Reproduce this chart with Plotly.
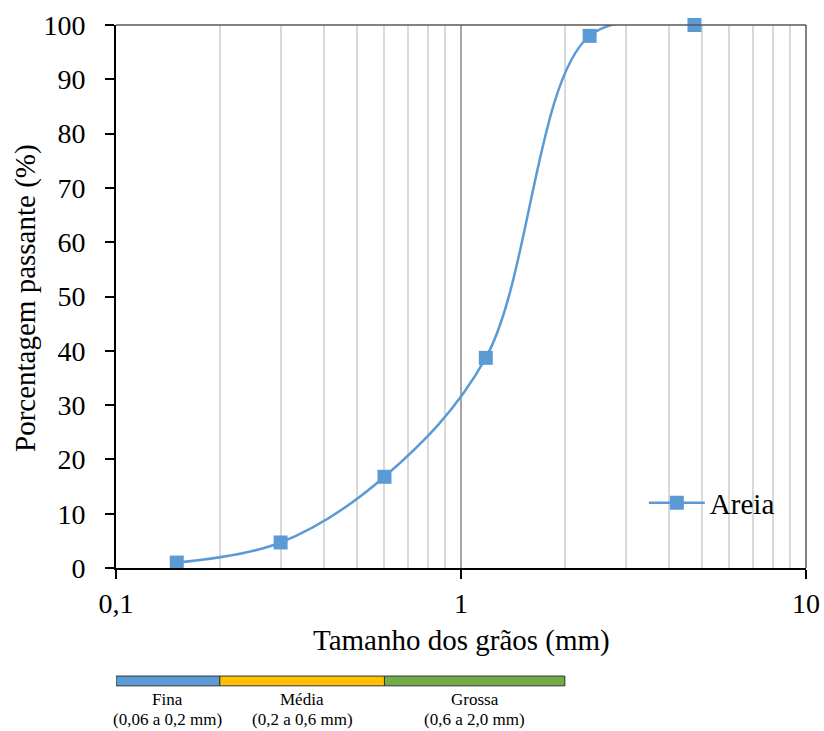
import math
import plotly.graph_objects as go

# Granulometric curve of the sand sample
sieve_mm = [0.15, 0.3, 0.6, 1.18, 2.36, 4.75]
passing_pct = [1.0, 4.7, 16.8, 38.7, 98.0, 100.0]
series_name = "Areia"

# Grain-size classes drawn under the axis
class_names = ["Fina", "Média", "Grossa"]
class_ranges = ["(0,06 a 0,2 mm)", "(0,2 a 0,6 mm)", "(0,6 a 2,0 mm)"]
class_bounds = [(0.06, 0.2), (0.2, 0.6), (0.6, 2.0)]
class_colors = ["#5B9BD5", "#FFC000", "#70AD47"]

x_tickvals = [0.1, 1, 10]
x_ticktext = ["0,1", "1", "10"]
x_min, x_max = 0.1, 10

x_title = "Tamanho dos grãos (mm)"
y_title = "Porcentagem passante (%)"

FONT = "Liberation Serif"
BLUE = "#5B9BD5"
FS = 29
TICK_FS = 28

fig = go.Figure()
fig.add_trace(go.Scatter(
    x=sieve_mm, y=passing_pct, name=series_name,
    mode="lines+markers",
    line=dict(color=BLUE, width=2.5, shape="spline", smoothing=1.0),
    marker=dict(symbol="square", size=14, color=BLUE),
    cliponaxis=False,
))

# Size-class bar below the x axis
bar_y0, bar_y1 = -0.217, -0.199
for (lo, hi), name, rng, col in zip(class_bounds, class_names, class_ranges, class_colors):
    lo_c = max(lo, x_min)
    fig.add_shape(type="rect", xref="x", yref="paper",
                  x0=lo_c, x1=hi, y0=bar_y0, y1=bar_y1,
                  fillcolor=col, line=dict(color="#333333", width=1))
    mid = (math.log10(lo_c) + math.log10(hi)) / 2
    for txt, yy in ((name, -0.2413), (rng, -0.2781)):
        fig.add_annotation(xref="x", yref="paper", x=mid, y=yy,
                           text=txt, showarrow=False,
                           xanchor="center", yanchor="middle",
                           font=dict(family=FONT, size=17, color="#000000"))

# Axis titles
fig.add_annotation(xref="paper", yref="paper", x=0.5, y=-0.1326,
                   text=x_title, showarrow=False,
                   xanchor="center", yanchor="middle",
                   font=dict(family=FONT, size=FS, color="#000000"))
fig.add_annotation(xref="paper", yref="paper", x=-0.1321, y=0.497,
                   text=y_title, showarrow=False, textangle=-90,
                   xanchor="center", yanchor="middle",
                   font=dict(family=FONT, size=FS, color="#000000"))

# Top and right frame lines
fig.add_shape(type="line", xref="paper", yref="paper", x0=0, x1=1, y0=1, y1=1,
              line=dict(color="#595959", width=1.5))
fig.add_shape(type="line", xref="paper", yref="paper", x0=1, x1=1, y0=0, y1=1,
              line=dict(color="#595959", width=1.5))

fig.update_layout(
    template="none",
    width=824, height=731,
    margin=dict(l=116, r=18, t=25, b=163, autoexpand=False),
    paper_bgcolor="white", plot_bgcolor="white",
    font=dict(family=FONT, size=FS, color="#000000"),
    showlegend=True,
    legend=dict(x=0.765, y=0.12, xanchor="left", yanchor="middle",
                bgcolor="rgba(0,0,0,0)", itemwidth=56,
                font=dict(family=FONT, size=FS, color="#000000")),
    xaxis=dict(
        type="log", range=[math.log10(x_min), math.log10(x_max)],
        automargin=False,
        tickvals=x_tickvals, ticktext=x_ticktext,
        ticks="outside", ticklen=9, tickwidth=2, tickcolor="#000000",
        showline=True, linecolor="#000000", linewidth=2,
        showgrid=True, gridcolor="#A6A6A6", gridwidth=1.5,
        zeroline=False,
        minor=dict(showgrid=True, gridcolor="#D9D9D9", gridwidth=1.5,
                   tickvals=[0.2, 0.3, 0.4, 0.5, 0.6, 0.7, 0.8, 0.9,
                             2, 3, 4, 5, 6, 7, 8, 9], ticks=""),
        tickfont=dict(family=FONT, size=TICK_FS),
    ),
    yaxis=dict(
        range=[0, 100], tickvals=list(range(0, 101, 10)),
        automargin=False,
        ticks="outside", ticklen=9, tickwidth=2, tickcolor="#000000",
        ticklabelstandoff=14,
        showline=True, linecolor="#000000", linewidth=2,
        showgrid=False, zeroline=False,
        tickfont=dict(family=FONT, size=TICK_FS),
    ),
)

fig.write_html("out.html")
